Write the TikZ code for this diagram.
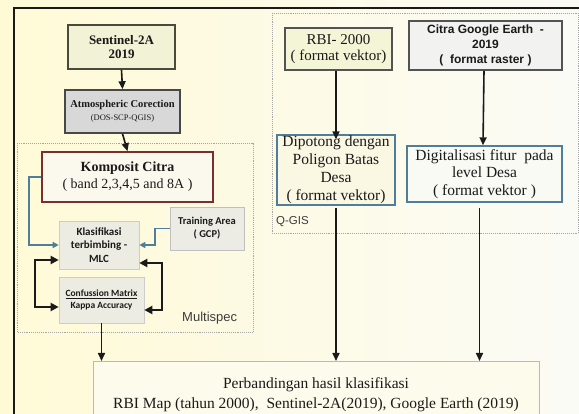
\documentclass[tikz,border=0pt]{standalone}
\usepackage{fontspec}
\setmainfont{Liberation Serif}
\newfontfamily\arial{Liberation Sans}
\newfontfamily\calibri{Carlito}
\usetikzlibrary{arrows.meta,calc}
\definecolor{bgl}{HTML}{FFFAD6}
\definecolor{bgr}{HTML}{FBFBF6}
\definecolor{olive}{HTML}{4A4A3C}
\definecolor{wine}{HTML}{7A2E2E}
\definecolor{steel}{HTML}{4F7E9C}
\definecolor{ink}{HTML}{1A1A1A}
\tikzset{
  box/.style={draw, rectangle, inner sep=1pt, align=center, text=ink},
  darr/.style={line width=1.6pt, ink, -{Triangle[width=7pt,length=8pt]}},
  barr/.style={line width=1.6pt, steel, -{Triangle[width=6pt,length=6pt]}},
  kbarr/.style={line width=2.2pt, ink, {Triangle[width=8pt,length=8pt]}-{Triangle[width=8pt,length=8pt]}},
  zone/.style={draw=gray!70, densely dotted, line width=0.9pt}
}
\begin{document}
\begin{tikzpicture}[x=1pt,y=-1pt]
\useasboundingbox (0,0) rectangle (579,414);
\shade[left color=bgl, right color=bgr] (0,0) rectangle (579,414);
% outer frame
\draw[line width=1.4pt, ink] (14,414) -- (14,8) -- (579,8);
% zones
\draw[zone] (17,143) rectangle (253,332);
\draw[zone] (272,13) rectangle (578,233);
\node[anchor=west, font=\arial\fontsize{13}{15}\selectfont, text=ink!85, inner sep=0pt] (mslabel) at (182,318) {Multispec};
\node[anchor=west, font=\arial\fontsize{11.5}{13}\selectfont, text=ink!85, inner sep=0pt] (qglabel) at (276,222) {Q-GIS};
% left column
\node[box, draw=olive, line width=1.6pt, fill={rgb,255:red,242;green,242;blue,214}, minimum width=107pt, minimum height=44pt,
      font=\bfseries\fontsize{13}{13.5}\selectfont] (sent) at (121.5,47) {Sentinel-2A\\2019};
\node[box, draw=ink!80, line width=1.6pt, fill={rgb,255:red,216;green,216;blue,216}, minimum width=115pt, minimum height=43pt,
      font=\fontsize{10.5}{13}\selectfont] (atm) at (122.5,111.5) {\textbf{Atmospheric Corection}\\{\fontsize{8.5}{11}\selectfont(DOS-SCP-QGIS)}};
\node[box, draw=wine, line width=1.6pt, fill={rgb,255:red,251;green,248;blue,238}, minimum width=171pt, minimum height=50pt,
      font=\fontsize{14}{17}\selectfont] (komp) at (127.5,177) {\textbf{Komposit Citra}\\( band 2,3,4,5 and 8A )};
\node[box, draw=gray!40, line width=0.6pt, fill={rgb,255:red,236;green,236;blue,226}, minimum width=80pt, minimum height=48pt,
      font=\calibri\bfseries\fontsize{11}{13.5}\selectfont] (klas) at (99,245) {Klasifikasi\\terbimbing -\\MLC};
\node[box, draw=gray!50, line width=0.6pt, fill={rgb,255:red,236;green,236;blue,228}, minimum width=74pt, minimum height=43pt,
      font=\calibri\bfseries\fontsize{10.5}{13}\selectfont] (train) at (207,228.5) {Training Area\\( GCP)};
\node[box, draw=gray!40, line width=0.6pt, fill={rgb,255:red,236;green,236;blue,226}, minimum width=85pt, minimum height=46pt,
      font=\calibri\bfseries\fontsize{9.5}{12}\selectfont] (conf) at (101.5,300) {\underline{Confussion Matrix}\\Kappa Accuracy};
% right column
\node[box, draw=ink!75, line width=1.6pt, fill={rgb,255:red,244;green,244;blue,214}, minimum width=107pt, minimum height=42pt,
      font=\fontsize{15}{16}\selectfont] (rbi) at (338.5,49) {RBI- 2000\\( format vektor)};
\node[box, draw=ink!75, line width=1.6pt, fill={rgb,255:red,242;green,242;blue,240}, minimum width=153pt, minimum height=49pt,
      font=\arial\bfseries\fontsize{12}{15}\selectfont] (goog) at (485.5,45.5) {Citra Google Earth\ \ -\\2019\\(\ \ format raster )};
\node[box, draw=steel, line width=1.4pt, fill={rgb,255:red,250;green,248;blue,226}, minimum width=118pt, minimum height=70pt,
      font=\fontsize{15.5}{18}\selectfont] (dipo) at (336,170) {Dipotong dengan\\Poligon Batas\\Desa\\( format vektor)};
\node[box, draw=steel, line width=1.4pt, fill={rgb,255:red,250;green,250;blue,244}, minimum width=155pt, minimum height=56pt,
      font=\fontsize{15.5}{17.5}\selectfont] (digi) at (484.5,174) {Digitalisasi fitur\ \ pada\\level Desa\\( format vektor )};
% bottom
\node[box, draw=gray!55, line width=0.6pt, fill={rgb,255:red,253;green,252;blue,236}, anchor=north west, minimum width=446pt, minimum height=60pt] (perb) at (93,361) {};
\node[font=\fontsize{15.5}{20}\selectfont, text=ink, align=center] (perbt) at (316,395) {Perbandingan hasil klasifikasi\\RBI Map (tahun 2000),\ \ Sentinel-2A(2019), Google Earth (2019)};
% arrows
\draw[darr] (sent.south) -- (atm.north);
\draw[darr] (atm.south) -- (komp.north);
\draw[darr] (conf.south) -- (conf.south |- perb.north);
\draw[darr] (rbi.south -| dipo.north) -- ([yshift=-5pt]dipo.north);
\draw[darr] ([xshift=-1.5pt]goog.south) -- ([xshift=-1.5pt]digi.north);
\draw[darr] ([yshift=-2pt]dipo.south) -- (dipo.south |- perb.north);
\draw[darr] ([xshift=-5pt,yshift=-5pt]digi.south) -- ([xshift=-5pt]digi.south |- perb.north);
\draw[barr] (komp.west) -- ++(-12,0) |- (klas.west);
\draw[barr] (train.west) -- ++(-15,0) |- (klas.east);
\draw[kbarr] ([yshift=-15pt]klas.west) -- ++(-24,0) |- ([yshift=-7pt]conf.west);
\draw[kbarr] ([yshift=-18pt]klas.east) -- ++(23,0) |- ([yshift=-10pt]conf.east);
\end{tikzpicture}
\end{document}
